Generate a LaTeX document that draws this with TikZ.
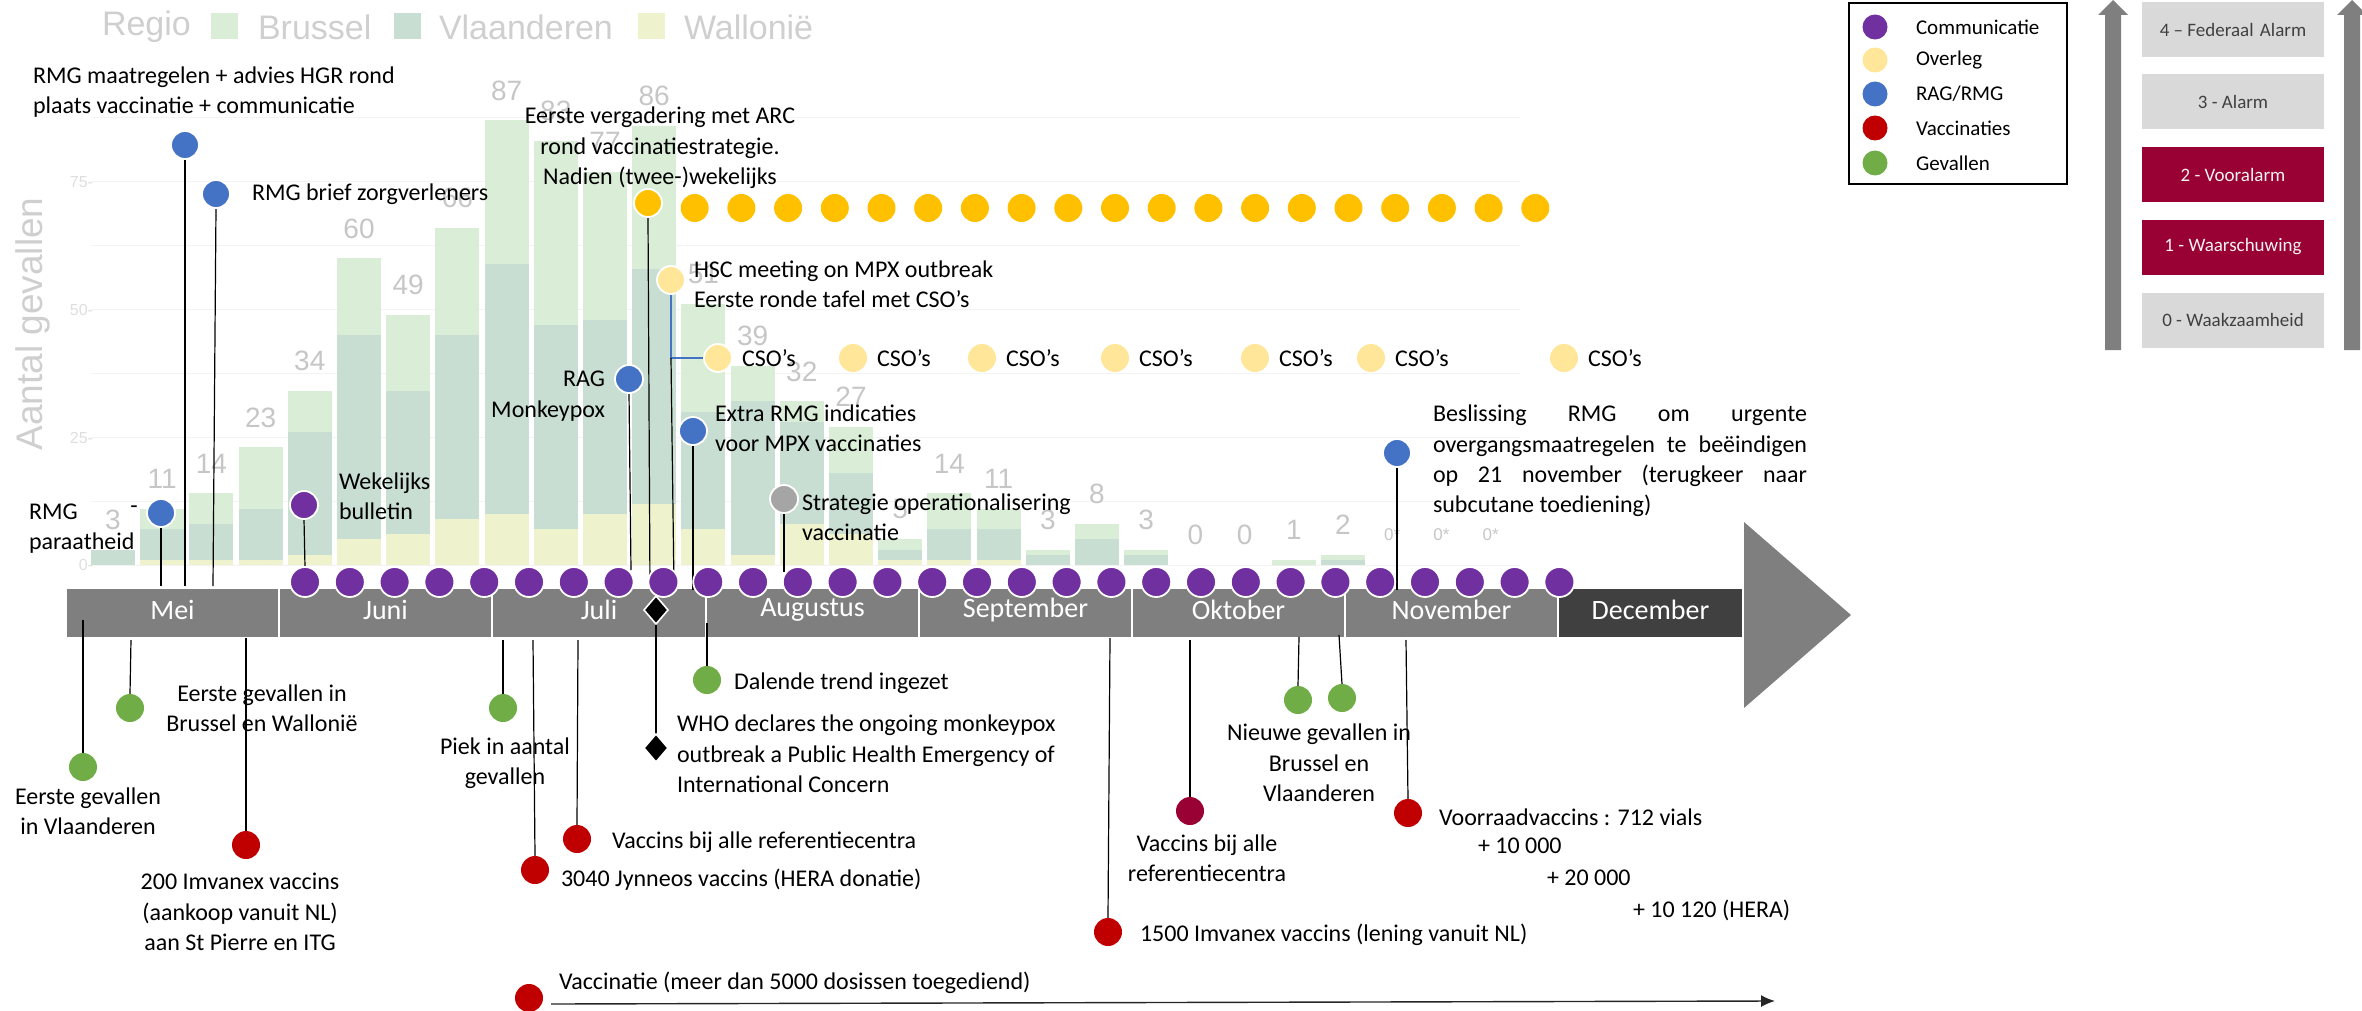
\documentclass[tikz,border=0pt]{standalone}
\usepackage{fontspec}
\setmainfont{Carlito}
\newfontfamily\chartfont{Liberation Sans}
\usetikzlibrary{shapes.geometric,arrows.meta}
\definecolor{purp}{HTML}{7030A0}
\definecolor{orng}{HTML}{FFC000}
\definecolor{lyel}{HTML}{FFE699}
\definecolor{blu}{HTML}{4472C4}
\definecolor{rd}{HTML}{C00000}
\definecolor{grn}{HTML}{70AD47}
\definecolor{crim}{HTML}{990033}
\definecolor{gry}{HTML}{A5A5A5}
\definecolor{tlgray}{HTML}{7F7F7F}
\definecolor{tldark}{HTML}{404040}
\definecolor{cBru}{HTML}{DAEDD7}
\definecolor{cVla}{HTML}{C8DED3}
\definecolor{cWal}{HTML}{EFF3CD}
\definecolor{chtxt}{HTML}{C6C6C6}
\definecolor{legtxt}{HTML}{CFCFCF}
\definecolor{ticktxt}{HTML}{DEDEDE}
\definecolor{gridc}{HTML}{F3F3F3}
\definecolor{boxgray}{HTML}{D9D9D9}
\definecolor{boxtxt}{HTML}{404040}
\pgfdeclarelayer{chart}
\pgfdeclarelayer{lines}
\pgfsetlayers{chart,lines,main}
\begin{document}
\begin{tikzpicture}[x=0.5pt,y=-0.5pt,
  every node/.style={inner sep=0pt,outer sep=0pt},
  ann/.style={font=\fontsize{12}{15.2}\selectfont,text=black},
  dotnode/.style={circle,minimum size=14pt,draw=white,line width=0.9pt},
  commdot/.style={dotnode,fill=purp,minimum size=15pt},
  conn/.style={draw=black,line width=0.6pt},
  chlabel/.style={font=\chartfont\fontsize{14}{16}\selectfont,text=chtxt},
  smlabel/.style={font=\chartfont\fontsize{8}{9}\selectfont,text=ticktxt},
  legtext/.style={font=\chartfont\fontsize{17}{19}\selectfont,text=legtxt,anchor=west},
  month/.style={font=\fontsize{14}{16}\selectfont,text=white},
  monthbox/.style={draw=white,line width=0.6pt},
  alarmbox/.style={minimum width=91pt,minimum height=27.5pt,font=\fontsize{9.5}{11}\selectfont},
  legitem/.style={font=\fontsize{10.5}{12}\selectfont,anchor=west},
  legdot/.style={circle,minimum size=12.5pt},
  wdiamond/.style={diamond,fill=black,draw=white,line width=0.8pt,minimum width=12pt,minimum height=14pt},
]
\useasboundingbox (0,0) rectangle (2362,1011);

% ================= faded bar chart =================
\begin{pgfonlayer}{chart}
\foreach \k in {0,...,7}
  \draw[gridc,line width=0.5pt] (91,{565-63.9*\k}) -- (1520,{565-63.9*\k});
\foreach \i/\w/\v/\b in {0/0/3/0,1/1/6/4,2/1/7/6,3/1/10/12,4/2/24/8,5/5/40/15,6/6/28/15,
  7/9/36/21,8/10/49/28,9/7/40/36,10/10/38/29,11/12/46/28,12/7/23/21,13/2/30/7,14/8/20/4,
  15/6/12/9,16/1/2/2,17/1/6/7,18/1/6/4,19/0/2/1,20/0/5/3,21/0/2/1,24/0/0/1,25/0/1/1}{
  \pgfmathsetmacro\xl{91+49.2*\i}
  \pgfmathsetmacro\xr{\xl+44}
  \pgfmathsetmacro\yw{565-5.11*\w}
  \pgfmathsetmacro\yv{\yw-5.11*\v}
  \pgfmathsetmacro\yb{\yv-5.11*\b}
  \fill[cWal] (\xl,565) rectangle (\xr,\yw);
  \fill[cVla] (\xl,\yw) rectangle (\xr,\yv);
  \fill[cBru] (\xl,\yv) rectangle (\xr,\yb);
}
\foreach \i/\t/\val in {0/3/3,1/11/11,2/14/14,3/23/23,4/34/34,5/60/60,6/49/49,7/66/66,
  8/87/87,9/83/83,10/77/77,11/86/86,12/51/51,13/39/39,14/32/32,15/27/27,16/5/5,17/14/14,
  18/11/11,19/3/3,20/8/8,21/3/3,22/0/0,23/0/0,24/1/1,25/2/2}
  \node[chlabel] (vl\i) at ({113+49.2*\i},{535-5.11*\val}) {\t};
\foreach \i in {26,27,28}
  \node[chlabel,font=\chartfont\fontsize{8.5}{10}\selectfont] (vl\i) at ({113+49.2*\i},535) {0*};
\foreach \t/\yy in {75/182,50/310,25/438,0/565}
  \node[smlabel,anchor=east] (tk\t) at (93,\yy) {\t-};
\node[rotate=90,font=\chartfont\fontsize{18.5}{20}\selectfont,text=legtxt] (ytitle) at (33,324) {Aantal gevallen};
\node[legtext] (lregio) at (102,27) {Regio};
\node[fill=cBru,minimum width=13.5pt,minimum height=13pt] (sqB) at (224.5,26) {};
\node[legtext] (lbru) at (258,27) {Brussel};
\node[fill=cVla,minimum width=13.5pt,minimum height=13pt] (sqV) at (407,26) {};
\node[legtext] (lvla) at (439,27) {Vlaanderen};
\node[fill=cWal,minimum width=13.5pt,minimum height=13pt] (sqW) at (651,26) {};
\node[legtext] (lwal) at (684,27) {Wallonië};

% ================= timeline bar =================
\foreach \m/\s/\e in {Mei/66/279,Juni/279/492,Juli/492/706,Augustus/706/919,September/919/1132,Oktober/1132/1345,November/1345/1558}
  \filldraw[monthbox,fill=tlgray] (\s,588) rectangle (\e,638);
\filldraw[monthbox,fill=tldark] (1558,588) rectangle (1743,638);
\fill[tlgray] (1744,522) -- (1851,615) -- (1744,708) -- cycle;
\end{pgfonlayer}

\foreach \m/\s/\e in {Mei/66/279,Juni/279/492,Juli/492/706,Augustus/706/919,September/919/1132,Oktober/1132/1345,November/1345/1558,December/1558/1743}
  \node[month] (m\m) at ({(\s+\e)/2},610) {\m};

% ================= dots above =================
\foreach \k in {0,...,28}
  \node[commdot] (p\k) at ({305+44.8*\k},582) {};
\node[dotnode,fill=orng] (o0) at (648,203) {};
\foreach \k in {1,...,19}
  \node[dotnode,fill=orng,draw=none] (o\k) at ({648+46.7*\k},208) {};
\node[dotnode,fill=lyel] (c1) at (718,358) {};
\foreach \k/\x in {2/853,3/982,4/1115,5/1255,6/1371,7/1564}
  \node[dotnode,fill=lyel,draw=none] (c\k) at (\x,358) {};
\foreach \k/\x in {1/718,2/853,3/982,4/1115,5/1255,6/1371,7/1564}
  \node[ann,anchor=west] (cl\k) at (\x+24,358) {CSO’s};

\node[dotnode,fill=blu] (bA) at (161,513) {};
\node[dotnode,fill=blu] (bB) at (185,145) {};
\node[dotnode,fill=blu] (bC) at (216,194) {};
\node[dotnode,fill=purp] (wk) at (304,505) {};
\node[dotnode,fill=blu] (rag) at (629,379) {};
\node[dotnode,fill=lyel] (hsc) at (671,280) {};
\node[dotnode,fill=blu] (ex) at (693,431) {};
\node[dotnode,fill=gry] (st) at (784,499) {};
\node[dotnode,fill=blu] (bs) at (1397,453) {};

% ================= dots below =================
\node[dotnode,fill=grn,draw=none] (g1) at (83,767) {};
\node[dotnode,fill=grn,draw=none] (g2) at (130,708) {};
\node[dotnode,fill=rd,draw=none] (r1) at (246,845) {};
\node[dotnode,fill=grn,draw=none] (g3) at (503,708) {};
\node[dotnode,fill=rd,draw=none] (r2) at (535,870) {};
\node[dotnode,fill=rd,draw=none] (r3) at (577,839) {};
\node[wdiamond] (d1) at (656,610) {};
\node[wdiamond] (d2) at (656,748) {};
\node[dotnode,fill=grn,draw=none] (g4) at (707,680) {};
\node[dotnode,fill=rd,draw=none] (r4) at (1108,932) {};
\node[dotnode,fill=crim,draw=none] (r5) at (1190,811) {};
\node[dotnode,fill=grn,draw=none] (g5) at (1298,700) {};
\node[dotnode,fill=grn,draw=none] (g6) at (1342,698) {};
\node[dotnode,fill=rd,draw=none] (r6) at (1408,813) {};
\node[dotnode,fill=rd,draw=none] (r7) at (529,998) {};

% ================= free ends =================
\coordinate (eA) at (161,586);
\coordinate (eB) at (185,586);
\coordinate (eC) at (213,586);
\coordinate (eRag) at (631,570);
\coordinate (eArc) at (650,590);
\coordinate (hscK) at (671,358);
\coordinate (eHsc) at (674,588);
\coordinate (eEx) at (693,590);
\coordinate (eSt) at (784,572);
\coordinate (eBs) at (1397,590);
\coordinate (sG1) at (83,620);
\coordinate (sG2) at (131,640);
\coordinate (sR1) at (246,638);
\coordinate (sG3) at (503,640);
\coordinate (sR2) at (533,640);
\coordinate (sR3) at (578,640);
\coordinate (sG4) at (707,623);
\coordinate (sR4) at (1110,638);
\coordinate (sR5) at (1190,640);
\coordinate (sG5) at (1299,637);
\coordinate (sG6) at (1339,635);
\coordinate (sR6) at (1406,640);
\coordinate (eVac) at (1775,1001);

\begin{pgfonlayer}{lines}
\draw[conn] (bA.south) -- (eA);
\draw[conn] (bB.south) -- (eB);
\draw[conn] (bC.south) -- (eC);
\draw[conn] (wk.south) -- (p0.north);
\draw[conn] (rag.south) -- (eRag);
\draw[conn] (o0.south) -- (eArc);
\draw[draw=blu,line width=0.7pt] (hsc.south) |- (c1.west);
\draw[conn] (hscK) -- (eHsc);
\draw[conn] (ex.south) -- (eEx);
\draw[conn] (st.south) -- (eSt);
\draw[conn] (bs.south) -- (eBs);
\draw[conn] (sG1) -- (g1.north);
\draw[conn] (sG2) -- (g2.north);
\draw[conn] (sR1) -- (r1.north);
\draw[conn] (sG3) -- (g3.north);
\draw[conn] (sR2) -- (r2.north);
\draw[conn] (sR3) -- (r3.north);
\draw[conn] (d1.south) -- (d2.north);
\draw[conn] (sG4) -- (g4.north);
\draw[conn] (sR4) -- (r4.north);
\draw[conn] (sR5) -- (r5.north);
\draw[conn] (sG5) -- (g5.north);
\draw[conn] (sG6) -- (g6.north);
\draw[conn] (sR6) -- (r6.north);
\draw[draw=black!85,line width=0.7pt,-{Latex[length=7pt,width=6pt]}] (r7.east) ++(8,6) -- (eVac);
\end{pgfonlayer}

% ================= texts above =================
\node[ann,anchor=west] (tA1) at (29,512) {RMG};
\node[ann] (tA2) at (134,510) {-};
\node[ann,anchor=west] (tA3) at (29,543) {paraatheid};
\node[ann,anchor=west,align=left] (tB) at (33,92) {RMG maatregelen + advies HGR rond\\plaats vaccinatie + communicatie};
\node[ann,anchor=west] (tC) at (252,194) {RMG brief zorgverleners};
\node[ann,anchor=west,align=left] (tWk) at (339,496) {Wekelijks\\bulletin};
\node[ann,anchor=east,align=right] (tRag) at (605,396) {RAG\\Monkeypox};
\node[ann,align=center] (tArc) at (660,148) {Eerste vergadering met ARC\\rond vaccinatiestrategie.\\Nadien (twee-)wekelijks};
\node[ann,anchor=west,align=left] (tHsc) at (694,284) {HSC meeting on MPX outbreak\\Eerste ronde tafel met CSO’s};
\node[ann,anchor=west,align=left] (tEx) at (715,428) {Extra RMG indicaties\\voor MPX vaccinaties};
\node[ann,anchor=west,align=left] (tSt) at (802,517) {Strategie operationalisering\\vaccinatie};
\node[ann,anchor=west,text width=187pt,align=justify] (tBs) at (1433,461)
  {\hyphenpenalty=10000\tolerance=10000\hbadness=10000 Beslissing RMG om urgente\linebreak overgangsmaatregelen te beëindigen\linebreak op 21 november (terugkeer naar\linebreak subcutane toediening)};

% ================= texts below =================
\node[ann,align=center] (tG1) at (88,811) {Eerste gevallen\\in Vlaanderen};
\node[ann,align=center] (tG2) at (262,708) {Eerste gevallen in\\Brussel en Wallonië};
\node[ann,align=center] (tR1) at (240,912) {200 Imvanex vaccins\\(aankoop vanuit NL)\\aan St Pierre en ITG};
\node[ann,align=center] (tG3) at (505,763) {Piek in aantal\\gevallen};
\node[ann,anchor=west] (tR2) at (561,880) {3040 Jynneos vaccins (HERA donatie)};
\node[ann,anchor=west] (tR3) at (612,842) {Vaccins bij alle referentiecentra};
\node[ann,anchor=west,align=left] (tWho) at (677,754) {WHO declares the ongoing monkeypox\\outbreak a Public Health Emergency of\\International Concern};
\node[ann,anchor=west] (tG4) at (734,683) {Dalende trend ingezet};
\node[ann,anchor=west] (tR4) at (1140,935) {1500 Imvanex vaccins (lening vanuit NL)};
\node[ann,align=center] (tR5) at (1207,858) {Vaccins bij alle\\referentiecentra};
\node[ann,align=center] (tG5) at (1319,763) {Nieuwe gevallen in\\Brussel en\\Vlaanderen};
\node[ann,anchor=west] (tR6a) at (1439,817) {Voorraadvaccins : 712 vials};
\node[ann,anchor=west] (tR6b) at (1478,846) {+ 10 000};
\node[ann,anchor=west] (tR6c) at (1547,878) {+ 20 000};
\node[ann,anchor=west] (tR6d) at (1633,910) {+ 10 120 (HERA)};
\node[ann,anchor=west] (tR7) at (559,983) {Vaccinatie (meer dan 5000 dosissen toegediend)};

% ================= legend =================
\draw[black,line width=1pt] (1849,3) rectangle (2067,184);
\foreach \c/\t/\yy/\n in {purp/Communicatie/27/1,lyel/Overleg/60/2,blu/RAG\slash RMG/94/3,rd/Vaccinaties/128/4,grn/Gevallen/163/5}{
  \node[legdot,fill=\c] (ld\n) at (1875,\yy) {};
  \node[legitem] (lt\n) at (1916,\yy) {\t};
}

% ================= alarm levels =================
\fill[tlgray] (2105,350) -- (2105,15) -- (2098,15) -- (2113,0) -- (2128,15) -- (2121,15) -- (2121,350) -- cycle;
\fill[tlgray] (2344,350) -- (2344,15) -- (2337,15) -- (2352,0) -- (2367,15) -- (2360,15) -- (2360,350) -- cycle;
\node[alarmbox,fill=boxgray,text=boxtxt] (al4) at (2233,29.5) {4 – Federaal\,\,Alarm};
\node[alarmbox,fill=boxgray,text=boxtxt] (al3) at (2233,101.5) {3 - Alarm};
\node[alarmbox,fill=crim,text=white!95!black] (al2) at (2233,174.5) {2 - Vooralarm};
\node[alarmbox,fill=crim,text=white!95!black] (al1) at (2233,247) {1 - Waarschuwing};
\node[alarmbox,fill=boxgray,text=boxtxt] (al0) at (2233,320) {0 - Waakzaamheid};
\end{tikzpicture}
\end{document}
